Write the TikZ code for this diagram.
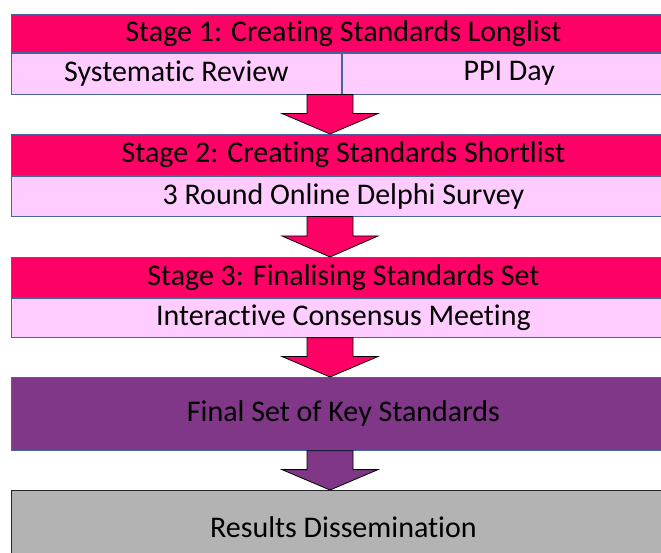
\documentclass[tikz,border=0pt]{standalone}
\usepackage{fontspec}
\setmainfont{Carlito}[RawFeature=-liga]
\usepackage{tikz}
\usetikzlibrary{calc}
\usetikzlibrary{positioning}

\definecolor{stagered}{RGB}{255,0,102}
\definecolor{stagepink}{RGB}{255,204,255}
\definecolor{finalpurple}{RGB}{128,55,135}
\definecolor{resultgrey}{RGB}{179,179,179}
\definecolor{tableline}{RGB}{70,100,160}

\tikzset{
	stagehead/.style={draw=tableline, line width=0.8pt, fill=stagered, minimum width=664pt, minimum height=40pt, anchor=north west, inner sep=0pt, font=\fontsize{30}{34}\selectfont},
	stagesub/.style={stagehead, fill=stagepink},
	finalbox/.style={stagehead, fill=finalpurple, minimum height=73pt},
	resultbox/.style={stagehead, draw=black!85, fill=resultgrey, minimum height=73pt},
	blockarrow/.style={draw=black, line width=0.8pt, line join=miter}
}

% block arrow from the bottom of #1 to the top of #2
\newcommand{\stagearrow}[3]{
	\path (#1.south -| axis) coordinate (t) (#2.north -| axis) coordinate (p);
	\path ($(t)!0.48!(p)$) coordinate (m);
	\draw[blockarrow, fill=#3] ($(t)+(-23,0)$) -- ($(t)+(23,0)$) -- ($(m)+(23,0)$) -- ($(m)+(48,0)$) -- (p) -- ($(m)+(-48,0)$) -- ($(m)+(-23,0)$) -- cycle;
}

\begin{document}
\begin{tikzpicture}[x=1pt, y=-1pt]
			\clip (0,0) rectangle (661,553);
			\fill[white] (0,0) rectangle (661,553);
			\coordinate (axis) at (330,0);

			\node[stagehead, minimum height=38pt] (s1) at (11,14) {Stage 1: Creating Standards Longlist};
			\node[stagesub, minimum width=330pt, minimum height=41pt] (review) at (s1.south west) {Systematic Review};
			\node[stagesub, minimum width=334pt, minimum height=41pt] (ppi) at (review.north east) {PPI Day};

			\node[stagehead, minimum height=41pt] (s2) at (11,134) {Stage 2: Creating Standards Shortlist};
			\node[stagesub] (delphi) at (s2.south west) {3 Round Online Delphi Survey};

			\node[stagehead] (s3) at (11,257) {Stage 3: Finalising Standards Set};
			\node[stagesub, minimum height=39pt] (meeting) at (s3.south west) {Interactive Consensus Meeting};

			\node[finalbox] (final) at (11,377) {Final Set of Key Standards};
			\node[resultbox] (results) at (11,490) {Results Dissemination};

			\stagearrow{review}{s2}{stagered}
			\stagearrow{delphi}{s3}{stagered}
			\stagearrow{meeting}{final}{stagered}
			\stagearrow{final}{results}{finalpurple}
\end{tikzpicture}
\end{document}
